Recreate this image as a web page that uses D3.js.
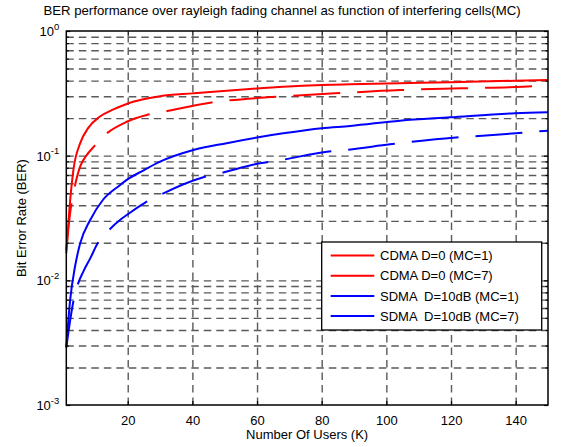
<!DOCTYPE html>
<html>
<head>
  <meta charset="utf-8">
  <style type="text/css">
  body {
    margin: 0;
    background: #fff;
    font-family: Arial, "Liberation Sans", sans-serif;
  }
  svg text {
    font-family: Arial, "Liberation Sans", sans-serif;
    fill: #000;
  }
  .grid line {
    stroke: #5a5a5a;
    stroke-width: 1.4px;
    stroke-dasharray: 7.5 5;
  }
  .grid path {
    display: none;
  }
  .axis path {
    display: none;
  }
  .axis line {
    stroke: #000;
    stroke-width: 1.2px;
  }
  .axis text {
    font-size: 13px;
  }
  .curve {
    fill: none;
    stroke-width: 2px;
  }
  </style>
</head>
<body>
  <script src="https://d3js.org/d3.v7.min.js"></script>
  <script>
    // CDMA D=0 (MC=1)
    var usersCdma1 = [1, 2.2, 3.2, 5.3, 7.8, 11.4, 15.6, 19.7, 24.8, 30, 40.3, 50.6, 60.9, 68.1, 80, 88.8, 104, 119.7, 139.8, 150];
    var berCdma1   = [0.0165, 0.044, 0.077, 0.126, 0.167, 0.206, 0.235, 0.26, 0.283, 0.300, 0.316, 0.332, 0.347, 0.357, 0.369, 0.374, 0.381, 0.388, 0.399, 0.405];
    // CDMA D=0 (MC=7)
    var usersCdma7 = [1, 2.2, 3.4, 5.3, 7.3, 9.4, 13, 19.7, 25.9, 31, 45.5, 61, 64.5, 84.1, 104.2, 123.3, 142.4, 150];
    var berCdma7   = [0.0175, 0.035, 0.053, 0.082, 0.101, 0.117, 0.147, 0.187, 0.212, 0.225, 0.266, 0.291, 0.295, 0.316, 0.336, 0.347, 0.357, 0.369];
    // SDMA D=10dB (MC=1)
    var usersSdma1 = [1, 2.2, 3.7, 5.3, 8.4, 12.3, 17.6, 19.7, 24.8, 30, 40.3, 50.6, 60.9, 68.1, 80, 88.8, 104.2, 119.7, 139.8, 150];
    var berSdma1   = [0.0029, 0.007, 0.0129, 0.0198, 0.0305, 0.0441, 0.058, 0.064, 0.076, 0.0895, 0.111, 0.126, 0.141, 0.151, 0.166, 0.173, 0.191, 0.203, 0.219, 0.223];
    // SDMA D=10dB (MC=7)
    var usersSdma7 = [1, 3.2, 4.4, 6.3, 8.4, 10.7, 14, 17.6, 19.7, 25.4, 30, 43.4, 48.6, 60.9, 67.6, 81.6, 87.2, 101.1, 106.3, 120.7, 125.9, 142.4, 150];
    var berSdma7   = [0.0029, 0.0068, 0.009, 0.0118, 0.015, 0.0198, 0.025, 0.0305, 0.0334, 0.042, 0.0484, 0.0671, 0.0722, 0.0869, 0.0924, 0.1077, 0.111, 0.1234, 0.128, 0.1394, 0.142, 0.153, 0.1587];

    var legendLabels = ["CDMA D=0 (MC=1)", "CDMA D=0 (MC=7)", "SDMA  D=10dB (MC=1)", "SDMA  D=10dB (MC=7)"];
    var xTicks = [20, 40, 60, 80, 100, 120, 140];
    var yMajor = [1e-3, 1e-2, 1e-1, 1];
    var yExponents = ["-3", "-2", "-1", "0"];

    var series = [
      {users: usersCdma1, ber: berCdma1, color: "#ff0000", dash: null},
      {users: usersCdma7, ber: berCdma7, color: "#ff0000", dash: "47 17"},
      {users: usersSdma1, ber: berSdma1, color: "#0000ff", dash: null},
      {users: usersSdma7, ber: berSdma7, color: "#0000ff", dash: "47 17"}
    ];

    var W = 564, H = 447;
    var margin = {left: 66.3, right: 548, top: 31, bottom: 405};
    var width = margin.right - margin.left, height = margin.bottom - margin.top;

    var x = d3.scaleLinear().domain([1, 150]).range([0, width]);
    var y = d3.scaleLog().domain([1e-3, 1]).range([height, 0]);

    var yMinor = [];
    [1e-3, 1e-2, 1e-1].forEach(function(d) {
      for (var m = 2; m <= 9; m++) yMinor.push(d * m);
    });

    var svg = d3.select("body").append("svg")
        .attr("width", W)
        .attr("height", H);

    svg.append("rect").attr("width", W).attr("height", H).attr("fill", "#fff");

    var g = svg.append("g")
        .attr("transform", "translate(" + margin.left + "," + margin.top + ")");

    // grid
    g.append("g")
        .attr("class", "grid")
        .attr("transform", "translate(0," + height + ")")
        .call(d3.axisBottom(x).tickValues(xTicks).tickSize(-height).tickFormat(""));
    g.append("g")
        .attr("class", "grid")
        .call(d3.axisLeft(y).tickValues(yMajor.slice(1, 3).concat(yMinor)).tickSize(-width).tickFormat(""));

    // curves
    var line = d3.line()
        .x(function(d) { return x(d[0]); })
        .y(function(d) { return y(d[1]); })
        .curve(d3.curveMonotoneX);

    series.forEach(function(s) {
      var pts = s.users.map(function(u, i) { return [u, s.ber[i]]; });
      g.append("path")
        .attr("class", "curve")
        .attr("d", line(pts))
        .attr("stroke", s.color)
        .attr("stroke-dasharray", s.dash);
    });

    // axes (ticks inside, MATLAB style)
    g.append("g")
        .attr("class", "axis")
        .attr("transform", "translate(0," + height + ")")
        .call(d3.axisBottom(x).tickValues(xTicks).tickSize(-4).tickPadding(11));
    g.append("g")
        .attr("class", "axis")
        .call(d3.axisTop(x).tickValues(xTicks).tickSize(-4).tickFormat(""));

    var yl = g.append("g")
        .attr("class", "axis")
        .call(d3.axisLeft(y).tickValues(yMajor).tickSize(-4).tickFormat(""));
    g.append("g")
        .attr("class", "axis")
        .call(d3.axisLeft(y).tickValues(yMinor).tickSize(-2.5).tickFormat(""));
    g.append("g")
        .attr("class", "axis")
        .attr("transform", "translate(" + width + ",0)")
        .call(d3.axisRight(y).tickValues(yMajor).tickSize(-4).tickFormat(""));
    g.append("g")
        .attr("class", "axis")
        .attr("transform", "translate(" + width + ",0)")
        .call(d3.axisRight(y).tickValues(yMinor).tickSize(-2.5).tickFormat(""));

    // y tick labels 10^k
    yl.selectAll(".tick").each(function(d, i) {
      var t = d3.select(this).append("text")
          .attr("x", -7)
          .attr("y", 4.5)
          .attr("text-anchor", "end")
          .style("font-size", "13px");
      t.append("tspan").text("10");
      t.append("tspan")
          .attr("dy", -6.5)
          .style("font-size", "9.5px")
          .text(yExponents[i]);
    });

    // box
    g.append("rect")
        .attr("width", width)
        .attr("height", height)
        .attr("fill", "none")
        .attr("stroke", "#000")
        .attr("stroke-width", 1.5);

    // legend
    var lg = g.append("g").attr("transform", "translate(" + (321.7 - margin.left) + "," + (242 - margin.top) + ")");
    lg.append("rect")
        .attr("width", 220)
        .attr("height", 88)
        .attr("fill", "#fff")
        .attr("stroke", "#000")
        .attr("stroke-width", 1.3);
    series.forEach(function(s, i) {
      var yy = 13.5 + i * 20.2;
      lg.append("line")
          .attr("x1", 9).attr("x2", 52.6)
          .attr("y1", yy).attr("y2", yy)
          .attr("stroke", s.color)
          .attr("stroke-width", 2)
          .attr("stroke-dasharray", s.dash);
      lg.append("text")
          .attr("x", 58.3)
          .attr("y", yy + 4.7)
          .attr("xml:space", "preserve")
          .style("white-space", "pre")
          .style("font-size", "13px")
          .text(legendLabels[i]);
    });

    // titles
    svg.append("text")
        .attr("x", 282)
        .attr("y", 15)
        .attr("text-anchor", "middle")
        .style("font-size", "13.2px")
        .text("BER performance over rayleigh fading channel as function of interfering cells(MC)");
    svg.append("text")
        .attr("x", margin.left + width / 2)
        .attr("y", 439)
        .attr("text-anchor", "middle")
        .style("font-size", "13px")
        .text("Number Of Users (K)");
    svg.append("text")
        .attr("transform", "translate(26," + (margin.top + height / 2) + ") rotate(-90)")
        .attr("text-anchor", "middle")
        .style("font-size", "13px")
        .text("Bit Error Rate (BER)");
  </script>
</body>
</html>
